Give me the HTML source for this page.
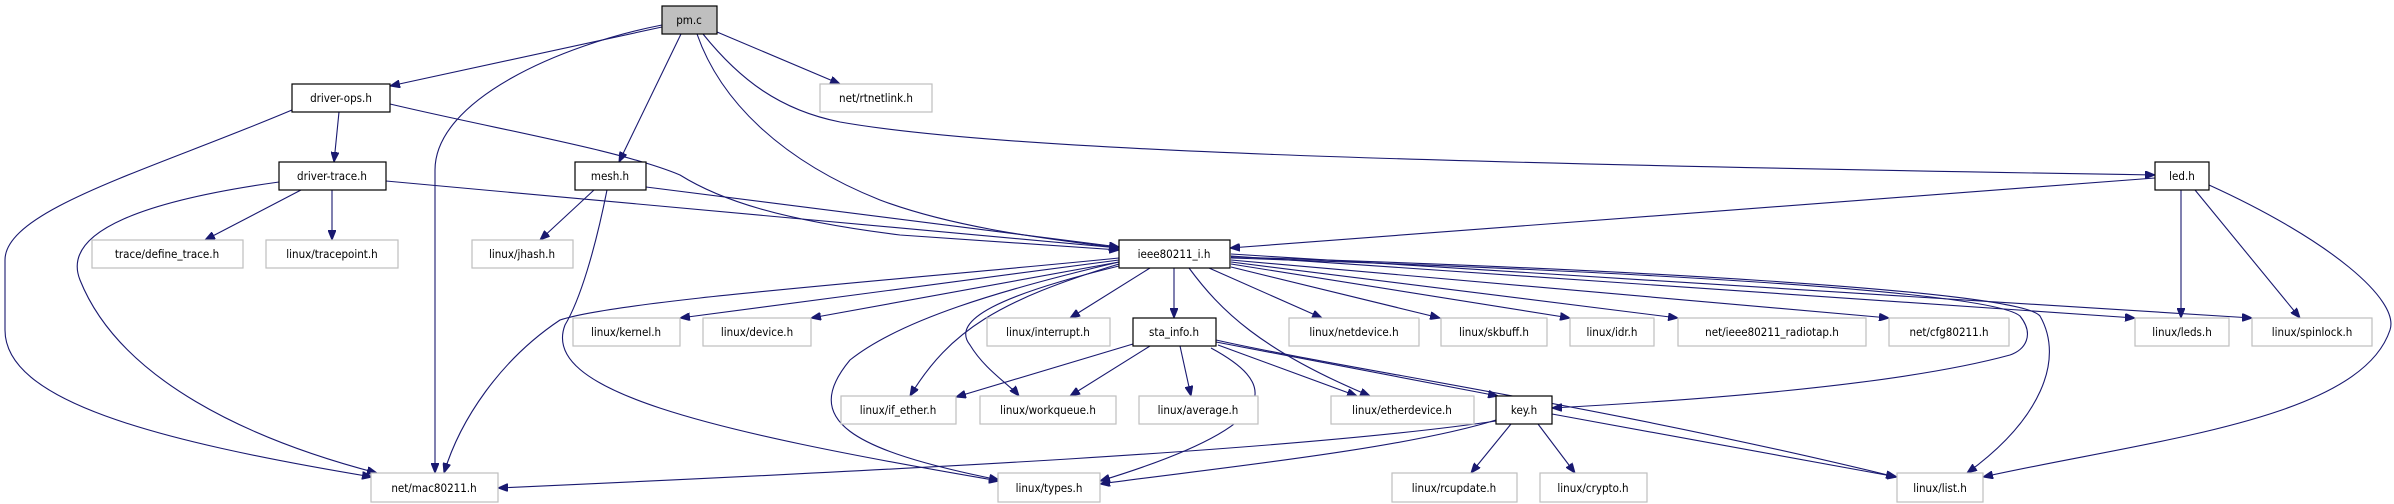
<!DOCTYPE html>
<html><head><meta charset="utf-8"><style>
html,body{margin:0;padding:0;background:#fff;}
svg{display:block;}
text{font-family:"DejaVu Sans Condensed","DejaVu Sans","Liberation Sans",sans-serif;font-size:11.5px;fill:#000;text-anchor:middle;}
.e{fill:none;stroke:#191970;stroke-width:1.1;marker-end:url(#a);}
.n{fill:#fff;stroke:#000;stroke-width:1.2;}
.g{fill:#fff;stroke:#bfbfbf;stroke-width:1.2;}
</style></head><body>
<svg width="2394" height="504" viewBox="0 0 2394 504" xmlns="http://www.w3.org/2000/svg">
<defs><marker id="a" markerWidth="11" markerHeight="8" refX="10" refY="4" orient="auto" markerUnits="userSpaceOnUse"><path d="M0,0 L10,4 L0,8 Z" fill="#191970" stroke="#191970"/></marker></defs>
<!-- edges from pm.c -->
<path class="e" d="M662,27 L390,86"/>
<path class="e" d="M662,25 C560,45 435,100 435,170 L435,473"/>
<path class="e" d="M681,34 L619,162"/>
<path class="e" d="M697,34 C720,100 780,160 880,200 C960,230 1060,240 1119,248"/>
<path class="e" d="M703,34 C740,80 780,110 840,122 C1000,150 1400,163 2155,175"/>
<path class="e" d="M717,32 L840,84"/>
<!-- driver-ops -->
<path class="e" d="M339,112 L334,162"/>
<path class="e" d="M292,110 C150,170 5,210 5,260 L5,330 C5,400 150,440 372,477"/>
<path class="e" d="M390,104 C500,130 620,150 680,175 C720,200 780,220 900,235 L1119,250"/>
<!-- driver-trace -->
<path class="e" d="M301,190 L205,240"/>
<path class="e" d="M332,190 L332,240"/>
<path class="e" d="M279,182 C150,200 60,230 80,280 C120,380 250,440 377,473"/>
<path class="e" d="M386,181 L1119,248"/>
<!-- mesh -->
<path class="e" d="M594,190 L540,240"/>
<path class="e" d="M607,190 C595,250 580,300 565,325 C540,390 700,430 999,481"/>
<path class="e" d="M646,187 L1119,247"/>
<!-- led -->
<path class="e" d="M2155,178 L1230,248"/>
<path class="e" d="M2181,190 L2181,318"/>
<path class="e" d="M2195,190 L2300,318"/>
<path class="e" d="M2209,185 C2330,240 2400,300 2390,330 C2360,420 2150,440 1983,477"/>
<!-- ieee80211_i.h -->
<path class="e" d="M1119,258 C900,280 620,300 560,320 C500,360 460,420 444,473"/>
<path class="e" d="M1119,260 L680,318"/>
<path class="e" d="M1119,262 L811,318"/>
<path class="e" d="M1150,268 L1070,318"/>
<path class="e" d="M1174,268 L1174,318"/>
<path class="e" d="M1209,268 L1322,318"/>
<path class="e" d="M1231,267 L1440,318"/>
<path class="e" d="M1231,264 L1570,318"/>
<path class="e" d="M1231,262 L1678,318"/>
<path class="e" d="M1231,260 L1889,318"/>
<path class="e" d="M1231,256 L2135,318"/>
<path class="e" d="M1231,254 L2252,318"/>
<path class="e" d="M1231,258 C1600,270 1990,290 2020,316 C2035,335 2025,350 2010,355 C1900,385 1700,400 1552,408"/>
<path class="e" d="M1231,257 C1600,268 2020,290 2040,316 C2065,360 2040,420 1967,473"/>
<path class="e" d="M1119,264 C1000,300 950,330 910,396"/>
<path class="e" d="M1119,266 C1000,295 950,320 970,345 C985,370 1010,385 1019,396"/>
<path class="e" d="M1119,262 C1000,290 900,320 850,360 C800,420 850,450 999,480"/>
<path class="e" d="M1189,268 C1220,310 1260,350 1370,396"/>
<!-- sta_info -->
<path class="e" d="M1133,344 L956,397"/>
<path class="e" d="M1150,346 L1070,396"/>
<path class="e" d="M1180,346 L1191,396"/>
<path class="e" d="M1218,345 L1357,396"/>
<path class="e" d="M1216,342 L1498,396"/>
<path class="e" d="M1216,340 C1350,370 1600,405 1896,477"/>
<path class="e" d="M1211,348 C1270,380 1300,420 1100,481"/>
<!-- key -->
<path class="e" d="M1496,421 C1300,450 900,470 498,488"/>
<path class="e" d="M1496,420 C1400,450 1200,470 1100,484"/>
<path class="e" d="M1511,424 L1471,473"/>
<path class="e" d="M1538,424 L1575,473"/>
<path class="e" d="M1552,414 L1897,477"/>
<!-- nodes -->
<rect x="662" y="6" width="55" height="28" fill="#bfbfbf" stroke="#000" stroke-width="1.2"/><text x="689" y="24">pm.c</text>
<rect class="n" x="292" y="84" width="98" height="28"/><text x="341" y="102">driver-ops.h</text>
<rect class="g" x="820" y="84" width="112" height="28"/><text x="876" y="102">net/rtnetlink.h</text>
<rect class="n" x="279" y="162" width="107" height="28"/><text x="332" y="180">driver-trace.h</text>
<rect class="n" x="575" y="162" width="71" height="28"/><text x="610" y="180">mesh.h</text>
<rect class="n" x="2155" y="162" width="54" height="28"/><text x="2182" y="180">led.h</text>
<rect class="g" x="92" y="240" width="151" height="28"/><text x="167" y="258">trace/define_trace.h</text>
<rect class="g" x="266" y="240" width="132" height="28"/><text x="332" y="258">linux/tracepoint.h</text>
<rect class="g" x="472" y="240" width="101" height="28"/><text x="522" y="258">linux/jhash.h</text>
<rect class="n" x="1119" y="240" width="111" height="28"/><text x="1174" y="258">ieee80211_i.h</text>
<rect class="g" x="573" y="318" width="107" height="28"/><text x="626" y="336">linux/kernel.h</text>
<rect class="g" x="703" y="318" width="108" height="28"/><text x="757" y="336">linux/device.h</text>
<rect class="g" x="987" y="318" width="123" height="28"/><text x="1048" y="336">linux/interrupt.h</text>
<rect class="n" x="1133" y="318" width="83" height="28"/><text x="1174" y="336">sta_info.h</text>
<rect class="g" x="1289" y="318" width="130" height="28"/><text x="1354" y="336">linux/netdevice.h</text>
<rect class="g" x="1441" y="318" width="106" height="28"/><text x="1494" y="336">linux/skbuff.h</text>
<rect class="g" x="1570" y="318" width="84" height="28"/><text x="1612" y="336">linux/idr.h</text>
<rect class="g" x="1678" y="318" width="188" height="28"/><text x="1772" y="336">net/ieee80211_radiotap.h</text>
<rect class="g" x="1889" y="318" width="120" height="28"/><text x="1949" y="336">net/cfg80211.h</text>
<rect class="g" x="2135" y="318" width="94" height="28"/><text x="2182" y="336">linux/leds.h</text>
<rect class="g" x="2252" y="318" width="120" height="28"/><text x="2312" y="336">linux/spinlock.h</text>
<rect class="g" x="841" y="396" width="115" height="28"/><text x="898" y="414">linux/if_ether.h</text>
<rect class="g" x="980" y="396" width="136" height="28"/><text x="1048" y="414">linux/workqueue.h</text>
<rect class="g" x="1139" y="396" width="119" height="28"/><text x="1198" y="414">linux/average.h</text>
<rect class="g" x="1331" y="396" width="143" height="28"/><text x="1402" y="414">linux/etherdevice.h</text>
<rect class="n" x="1496" y="396" width="56" height="28"/><text x="1524" y="414">key.h</text>
<rect class="g" x="371" y="473" width="127" height="29"/><text x="434" y="492">net/mac80211.h</text>
<rect class="g" x="998" y="473" width="102" height="29"/><text x="1049" y="492">linux/types.h</text>
<rect class="g" x="1392" y="473" width="125" height="29"/><text x="1454" y="492">linux/rcupdate.h</text>
<rect class="g" x="1540" y="473" width="107" height="29"/><text x="1593" y="492">linux/crypto.h</text>
<rect class="g" x="1897" y="473" width="86" height="29"/><text x="1940" y="492">linux/list.h</text>
</svg>
</body></html>
